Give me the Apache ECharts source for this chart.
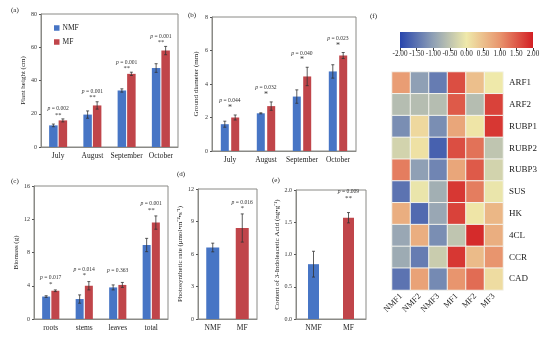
<!DOCTYPE html>
<html><head><meta charset="utf-8">
<script src="https://cdn.jsdelivr.net/npm/echarts@6/dist/echarts.min.js"></script>
<style>html,body{margin:0;padding:0;background:#fff}#c{width:550px;height:338px}</style>
</head><body><div id="c"></div>
<script>
// ---------- data ----------
const monthCats = ['July', 'August', 'September', 'October'];
const heightNMF = [13, 19.5, 34, 47.5];
const heightNMFErr = [0.8, 2.2, 1.0, 2.6];
const heightMF = [16, 25, 44, 58];
const heightMFErr = [0.9, 2.2, 1.0, 2.5];
const heightP = ['0.002', '0.001', '0.001', '0.001'];
const heightStars = ['**', '**', '**', '**'];

const diamNMF = [1.6, 2.25, 3.25, 4.75];
const diamNMFErr = [0.18, 0.03, 0.4, 0.4];
const diamMF = [2.0, 2.68, 4.45, 5.7];
const diamMFErr = [0.15, 0.25, 0.55, 0.18];
const diamP = ['0.044', '0.032', '0.040', '0.023'];
const diamStars = ['*', '*', '*', '*'];

const organCats = ['roots', 'stems', 'leaves', 'total'];
const bioNMF = [2.7, 2.4, 3.8, 8.9];
const bioNMFErr = [0.1, 0.5, 0.3, 0.8];
const bioMF = [3.4, 4.0, 4.1, 11.6];
const bioMFErr = [0.1, 0.5, 0.3, 0.8];
const bioP = ['0.017', '0.014', '0.363', '0.001'];
const bioStars = ['*', '*', '', '**'];

const groupCats = ['NMF', 'MF'];
const photoVals = [6.6, 8.4];
const photoErr = [0.4, 1.3];
const photoP = ['', '0.016'];
const photoStars = ['', '*'];

const iaaVals = [0.85, 1.57];
const iaaErr = [0.2, 0.08];
const iaaP = ['', '0.009'];
const iaaStars = ['', '**'];

const samples = ['NMF1', 'NMF2', 'NMF3', 'MF1', 'MF2', 'MF3'];
const genes = ['ARF1', 'ARF2', 'RUBP1', 'RUBP2', 'RUBP3', 'SUS', 'HK', '4CL', 'CCR', 'CAD'];
const heatARF1  = [0.9, -1.0, -1.4, 1.6, 0.5, 0.0];
const heatARF2  = [-0.6, -0.6, -0.6, 1.5, -0.6, 1.7];
const heatRUBP1 = [-1.2, 0.2, -1.2, 0.8, 0.05, 1.8];
const heatRUBP2 = [-0.3, 0.1, -1.7, 1.6, 1.3, -0.5];
const heatRUBP3 = [1.2, -1.0, -1.3, 0.8, 1.5, -0.3];
const heatSUS   = [-1.5, -0.05, -0.8, 1.8, 1.2, -0.05];
const heatHK    = [0.7, -1.6, -0.9, 1.7, 0.05, 0.6];
const heat4CL   = [-0.9, 0.7, -1.2, -0.5, 1.9, 0.7];
const heatCCR   = [-0.85, -1.4, -0.4, 1.8, 0.55, 1.0];
const heatCAD   = [-1.5, 0.85, -1.25, 1.0, 1.35, 0.15];
const heatRows = [heatARF1, heatARF2, heatRUBP1, heatRUBP2, heatRUBP3, heatSUS, heatHK, heat4CL, heatCCR, heatCAD];
const scaleTicks = [-2, -1.5, -1, -0.5, 0, 0.5, 1, 1.5, 2];

// ---------- style ----------
const FONT = 'Liberation Serif';
const BLUE = '#4775C5';
const RED = '#C0454A';
const BOX = '#8a8a86';
const heatColors = ['#2846ad', '#8fa0b5', '#efe9aa', '#e8956e', '#d31f24'];

const grids = [];
const xAxes = [];
const yAxes = [];
const series = [];

function errRender(offset) {
  return function (params, api) {
    const i = api.value(0), v = api.value(1), e = api.value(2);
    const hi = api.coord([i, v + e]);
    const lo = api.coord([i, v - e]);
    const x = hi[0] + offset;
    const st = { stroke: '#333', lineWidth: 0.8 };
    return { type: 'group', children: [
      { type: 'line', shape: { x1: x, y1: hi[1], x2: x, y2: lo[1] }, style: st },
      { type: 'line', shape: { x1: x - 1.5, y1: hi[1], x2: x + 1.5, y2: hi[1] }, style: st },
      { type: 'line', shape: { x1: x - 1.5, y1: lo[1], x2: x + 1.5, y2: lo[1] }, style: st }
    ] };
  };
}

function annRender(offset, pList, sList, starOff, pOff, starSize) {
  return function (params, api) {
    const idx = params.dataIndex;
    const pt = api.coord([api.value(0), api.value(1)]);
    const x = pt[0] + offset;
    const ch = [];
    if (pList[idx]) ch.push({ type: 'text', x: x, y: pt[1] - pOff, style: {
      text: '{i|p} = ' + pList[idx], fontSize: 5.6, fontFamily: FONT, fill: '#333',
      align: 'center', verticalAlign: 'middle',
      rich: { i: { fontStyle: 'italic', fontSize: 5.6, fontFamily: FONT, fill: '#333' } } } });
    if (sList[idx]) ch.push({ type: 'text', x: x, y: pt[1] - starOff, style: {
      text: sList[idx], fontSize: starSize, fontFamily: FONT, fill: '#333',
      align: 'center', verticalAlign: 'middle' } });
    return { type: 'group', children: ch };
  };
}

function addGrid(g, cats, yMin, yMax, yInt, yName, nameGap, fmt) {
  const gi = grids.length;
  grids.push(Object.assign({ show: true, borderColor: BOX, borderWidth: 1, backgroundColor: 'transparent' }, g));
  xAxes.push({ gridIndex: gi, type: 'category', data: cats,
    axisLine: { show: true, lineStyle: { color: BOX } }, axisTick: { show: false },
    axisLabel: { fontFamily: FONT, fontSize: 7.5, color: '#222', margin: 5, interval: 0 } });
  yAxes.push({ gridIndex: gi, type: 'value', min: yMin, max: yMax, interval: yInt,
    name: yName, nameLocation: 'middle', nameRotate: 90, nameGap: nameGap,
    nameTextStyle: { fontFamily: FONT, fontSize: 7, color: '#222' },
    axisLine: { show: true, lineStyle: { color: BOX } },
    axisTick: { show: true, length: 2, lineStyle: { color: '#555' } },
    splitLine: { show: false },
    axisLabel: { fontFamily: FONT, fontSize: 6, color: '#333', margin: 4, formatter: fmt } });
  return gi;
}

function groupedPanel(g, cats, nmf, nmfErr, mf, mfErr, pv, stars, yMin, yMax, yInt, yName, nameGap, barW, gap, starOff, pOff, starSize) {
  const gi = addGrid(g, cats, yMin, yMax, yInt, yName, nameGap);
  const off = barW * (1 + gap) / 2;
  series.push({ name: 'NMF', type: 'bar', xAxisIndex: gi, yAxisIndex: gi, data: nmf, barWidth: barW, barGap: Math.round(gap * 100) + '%', itemStyle: { color: BLUE } });
  series.push({ name: 'MF', type: 'bar', xAxisIndex: gi, yAxisIndex: gi, data: mf, barWidth: barW, barGap: Math.round(gap * 100) + '%', itemStyle: { color: RED } });
  series.push({ type: 'custom', xAxisIndex: gi, yAxisIndex: gi, z: 5, renderItem: errRender(-off), data: nmf.map((v, i) => [i, v, nmfErr[i]]) });
  series.push({ type: 'custom', xAxisIndex: gi, yAxisIndex: gi, z: 5, renderItem: errRender(off), data: mf.map((v, i) => [i, v, mfErr[i]]) });
  series.push({ type: 'custom', xAxisIndex: gi, yAxisIndex: gi, z: 6, renderItem: annRender(0, pv, stars, starOff, pOff, starSize),
    data: cats.map((c, i) => [i, Math.max(nmf[i] + nmfErr[i], mf[i] + mfErr[i])]) });
}

function singlePanel(g, cats, vals, errs, pv, stars, yMin, yMax, yInt, yName, nameGap, barW, starOff, pOff, starSize, fmt) {
  const gi = addGrid(g, cats, yMin, yMax, yInt, yName, nameGap, fmt);
  const cols = [BLUE, RED];
  series.push({ type: 'bar', xAxisIndex: gi, yAxisIndex: gi, barWidth: barW,
    data: vals.map((v, i) => ({ value: v, itemStyle: { color: cols[i] } })) });
  series.push({ type: 'custom', xAxisIndex: gi, yAxisIndex: gi, z: 5, renderItem: errRender(0), data: vals.map((v, i) => [i, v, errs[i]]) });
  series.push({ type: 'custom', xAxisIndex: gi, yAxisIndex: gi, z: 6, renderItem: annRender(0, pv, stars, starOff, pOff, starSize),
    data: vals.map((v, i) => [i, v + errs[i]]) });
}

groupedPanel({ left: 41, top: 14, width: 137, height: 133 }, monthCats, heightNMF, heightNMFErr, heightMF, heightMFErr, heightP, heightStars,
  0, 80, 20, 'Plant height (cm)', 13, 8.5, 0.12, 4, 10, 6.5);
groupedPanel({ left: 212, top: 17, width: 144, height: 134 }, monthCats, diamNMF, diamNMFErr, diamMF, diamMFErr, diamP, diamStars,
  0, 8, 2, 'Ground diameter (mm)', 12, 8, 0.3, 7, 14, 8);
groupedPanel({ left: 34, top: 186, width: 134, height: 133 }, organCats, bioNMF, bioNMFErr, bioMF, bioMFErr, bioP, bioStars,
  0, 16, 4, 'Biomass (g)', 13, 8, 0.15, 6, 12, 7);
singlePanel({ left: 198, top: 189, width: 59, height: 130 }, groupCats, photoVals, photoErr, photoP, photoStars,
  0, 12, 3, 'Photosynthetic rate (μmol•m⁻²•s⁻¹)', 8, 13, 6, 11, 7);
singlePanel({ left: 296, top: 190, width: 70, height: 129 }, groupCats, iaaVals, iaaErr, iaaP, iaaStars,
  0, 2, 0.5, 'Content of 3-Indoleacetic Acid (ng•g⁻¹)', 12, 11, 14, 21, 7, v => v.toFixed(1));

// heatmap
const hgi = grids.length;
grids.push({ left: 392, top: 72, width: 111, height: 218, show: false });
xAxes.push({ gridIndex: hgi, type: 'category', data: samples, position: 'bottom',
  axisLine: { show: false }, axisTick: { show: false }, splitArea: { show: false },
  axisLabel: { rotate: 45, fontFamily: FONT, fontSize: 8.5, color: '#222', margin: 5, interval: 0 } });
yAxes.push({ gridIndex: hgi, type: 'category', data: genes, position: 'right', inverse: true,
  axisLine: { show: false }, axisTick: { show: false },
  axisLabel: { fontFamily: FONT, fontSize: 9, color: '#222', margin: 6, interval: 0 } });
const heatData = [];
heatRows.forEach((row, r) => row.forEach((v, c) => heatData.push([c, r, v])));
const heatSeriesIndex = series.length;
series.push({ type: 'heatmap', xAxisIndex: hgi, yAxisIndex: hgi, data: heatData,
  itemStyle: { borderColor: '#f4f4ee', borderWidth: 1 } });

// colour scale bar
const cgi = grids.length;
grids.push({ left: 400, top: 32, width: 133, height: 16, show: true, borderWidth: 0,
  backgroundColor: new echarts.graphic.LinearGradient(0, 0, 1, 0, heatColors.map((c, i) => ({ offset: i / (heatColors.length - 1), color: c }))) });
xAxes.push({ gridIndex: cgi, type: 'value', min: scaleTicks[0], max: scaleTicks[scaleTicks.length - 1], interval: 0.5,
  axisLine: { show: false }, axisTick: { show: true, length: 3, lineStyle: { color: '#444' } }, splitLine: { show: false },
  axisLabel: { fontFamily: FONT, fontSize: 7.2, color: '#222', margin: 3, formatter: v => v.toFixed(2) } });
yAxes.push({ gridIndex: cgi, type: 'value', show: false, min: 0, max: 1, splitLine: { show: false } });

const panelLabels = [['(a)', 11, 7], ['(b)', 188, 12], ['(c)', 11, 178], ['(d)', 177, 171], ['(e)', 272, 177], ['(f)', 370, 13]];

const chart = echarts.init(document.getElementById('c'), null, { renderer: 'canvas' });
chart.setOption({
  animation: false,
  backgroundColor: '#fff',
  title: panelLabels.map(l => ({ text: l[0], left: l[1], top: l[2], padding: 0, textStyle: { fontFamily: FONT, fontSize: 7, fontWeight: 'normal', color: '#222' } })),
  legend: { left: 49, top: 19, orient: 'vertical', itemWidth: 5.5, itemHeight: 5.5, itemGap: 6, icon: 'rect', data: ['NMF', 'MF'],
    textStyle: { fontFamily: FONT, fontSize: 7.5, color: '#222', padding: [0, 0, 0, -2] } },
  visualMap: { type: 'continuous', show: false, min: -2, max: 2, seriesIndex: heatSeriesIndex, inRange: { color: heatColors } },
  grid: grids,
  xAxis: xAxes,
  yAxis: yAxes,
  series: series
});
</script>
</body></html>
